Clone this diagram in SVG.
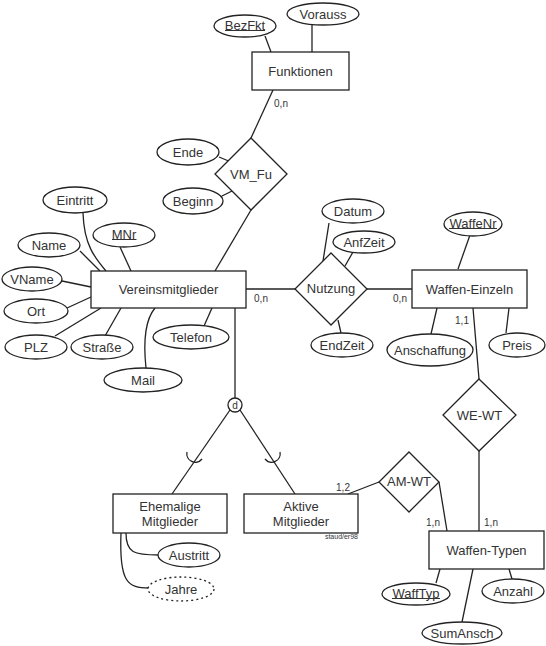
<svg xmlns="http://www.w3.org/2000/svg" width="546" height="646" viewBox="0 0 546 646">
<style>
.e{fill:#fff;stroke:#222;stroke-width:1.3}
.d{fill:#fff;stroke:#222;stroke-width:1.3;stroke-dasharray:2,3}
.l{fill:none;stroke:#222;stroke-width:1.3}
.ul{stroke:#333;stroke-width:1}
text{font-family:"Liberation Sans",Arial,sans-serif;font-size:13px;fill:#333;text-anchor:middle;dominant-baseline:central}
.c{font-size:10px}
.s{font-size:7px;text-anchor:end}
</style>
<rect width="546" height="646" fill="#fff"/>
<g id="connectors">
<line class="l" x1="265" y1="36" x2="271" y2="52"/>
<line class="l" x1="312" y1="25" x2="312" y2="52"/>
<line class="l" x1="273" y1="90" x2="251" y2="138"/>
<line class="l" x1="219" y1="157" x2="231" y2="162"/>
<line class="l" x1="222" y1="196" x2="234" y2="190"/>
<line class="l" x1="251" y1="210" x2="215" y2="271"/>
<path class="l" d="M83,213 C84,245 95,258 106,271"/>
<line class="l" x1="80" y1="251" x2="100" y2="271"/>
<line class="l" x1="120" y1="247" x2="131" y2="271"/>
<line class="l" x1="62" y1="281" x2="91" y2="287"/>
<line class="l" x1="67" y1="308" x2="91" y2="297"/>
<line class="l" x1="55" y1="336" x2="101" y2="308"/>
<line class="l" x1="105" y1="336" x2="121" y2="308"/>
<path class="l" d="M146,368 C143,340 145,320 155,308"/>
<line class="l" x1="204" y1="326" x2="212" y2="308"/>
<line class="l" x1="246" y1="289" x2="295" y2="289"/>
<line class="l" x1="367" y1="289" x2="412" y2="289"/>
<line class="l" x1="329" y1="223" x2="323" y2="261"/>
<line class="l" x1="353" y1="252" x2="345" y2="266"/>
<line class="l" x1="338" y1="320" x2="341" y2="333"/>
<line class="l" x1="470" y1="235" x2="458" y2="269"/>
<line class="l" x1="437" y1="308" x2="431" y2="334"/>
<line class="l" x1="509" y1="308" x2="506" y2="333"/>
<line class="l" x1="473" y1="308" x2="479" y2="379"/>
<line class="l" x1="479" y1="451" x2="479" y2="531"/>
<line class="l" x1="379" y1="482" x2="348" y2="494"/>
<line class="l" x1="439" y1="482" x2="447" y2="531"/>
<line class="l" x1="440" y1="569" x2="436" y2="583"/>
<line class="l" x1="509" y1="569" x2="512" y2="579"/>
<line class="l" x1="473" y1="569" x2="462" y2="622"/>
<line class="l" x1="235" y1="308" x2="235" y2="398"/>
<line class="l" x1="230" y1="410" x2="172" y2="494"/>
<line class="l" x1="240" y1="410" x2="295" y2="494"/>
<path class="l" d="M187,452 A8.5,8.5 0 0 0 202,459"/>
<path class="l" d="M265,459 A8.5,8.5 0 0 0 280,452"/>
<path class="l" d="M126,533 C126,553 134,555 159,555"/>
<path class="l" d="M121,533 C119,583 128,588 149,588"/>
</g>
<g id="labels">
<text class="c" x="281" y="103">0,n</text>
<text class="c" x="261" y="298">0,n</text>
<text class="c" x="400" y="298">0,n</text>
<text class="c" x="462" y="320">1,1</text>
<text class="c" x="343" y="487">1,2</text>
<text class="c" x="433" y="522">1,n</text>
<text class="c" x="491" y="522">1,n</text>
<text class="s" x="358" y="536">staud/er98</text>
</g>
<g id="Funktionen"><rect class="e" x="252" y="52" width="97" height="38"/><text x="300.5" y="71">Funktionen</text></g>
<g id="BezFkt"><ellipse class="e" cx="245" cy="26" rx="31" ry="11"/><text x="245" y="25">BezFkt</text><line class="ul" x1="225" y1="30.5" x2="265" y2="30.5"/></g>
<g id="Vorauss"><ellipse class="e" cx="323" cy="14" rx="36" ry="11"/><text x="323" y="14">Vorauss</text></g>
<g id="VM_Fu"><polygon class="e" points="251,138 287,174 251,210 215,174"/><text x="251" y="174">VM_Fu</text></g>
<g id="Ende"><ellipse class="e" cx="188" cy="152" rx="31" ry="13"/><text x="188" y="152">Ende</text></g>
<g id="Beginn"><ellipse class="e" cx="193" cy="201" rx="30" ry="13"/><text x="193" y="201">Beginn</text></g>
<g id="Vereinsmitglieder"><rect class="e" x="91" y="271" width="155" height="37"/><text x="168.5" y="289.5">Vereinsmitglieder</text></g>
<g id="Eintritt"><ellipse class="e" cx="75" cy="200" rx="32" ry="13"/><text x="75" y="200">Eintritt</text></g>
<g id="MNr"><ellipse class="e" cx="124" cy="235" rx="31" ry="12"/><text x="124" y="234">MNr</text><line class="ul" x1="112" y1="239.5" x2="136.5" y2="239.5"/></g>
<g id="Name"><ellipse class="e" cx="49" cy="245" rx="31" ry="12"/><text x="49" y="245">Name</text></g>
<g id="VName"><ellipse class="e" cx="32" cy="279" rx="30" ry="12"/><text x="32" y="279">VName</text></g>
<g id="Ort"><ellipse class="e" cx="36" cy="311" rx="32" ry="12"/><text x="36" y="311">Ort</text></g>
<g id="PLZ"><ellipse class="e" cx="36" cy="347" rx="31" ry="12"/><text x="36" y="347">PLZ</text></g>
<g id="Strasse"><ellipse class="e" cx="102" cy="347" rx="31" ry="12"/><text x="102" y="347">Straße</text></g>
<g id="Mail"><ellipse class="e" cx="143" cy="380" rx="39" ry="12"/><text x="143" y="380">Mail</text></g>
<g id="Telefon"><ellipse class="e" cx="191" cy="337" rx="38" ry="12"/><text x="191" y="337">Telefon</text></g>
<g id="Nutzung"><polygon class="e" points="331,253 367,289 331,325 295,289"/><text x="331" y="288">Nutzung</text></g>
<g id="Datum"><ellipse class="e" cx="353" cy="211" rx="31" ry="12"/><text x="353" y="211">Datum</text></g>
<g id="AnfZeit"><ellipse class="e" cx="364" cy="242" rx="31" ry="11"/><text x="364" y="242">AnfZeit</text></g>
<g id="EndZeit"><ellipse class="e" cx="342" cy="345" rx="31" ry="12"/><text x="342" y="345">EndZeit</text></g>
<g id="Waffen-Einzeln"><rect class="e" x="412" y="270" width="115" height="38"/><text x="469.5" y="289">Waffen-Einzeln</text></g>
<g id="WaffeNr"><ellipse class="e" cx="473" cy="224" rx="29" ry="12"/><text x="473" y="223">WaffeNr</text><line class="ul" x1="449" y1="228.5" x2="497" y2="228.5"/></g>
<g id="Anschaffung"><ellipse class="e" cx="430" cy="350" rx="43" ry="16"/><text x="430" y="350">Anschaffung</text></g>
<g id="Preis"><ellipse class="e" cx="517" cy="345" rx="28" ry="12"/><text x="517" y="345">Preis</text></g>
<g id="WE-WT"><polygon class="e" points="479,379 516,415 479,451 443,415"/><text x="479.5" y="415">WE-WT</text></g>
<g id="d"><circle class="e" cx="235" cy="405" r="7"/><text class="c" x="235" y="405">d</text></g>
<g id="Ehemalige"><rect class="e" x="113" y="494" width="114" height="39"/><text x="170" y="506">Ehemalige</text><text x="170" y="521">Mitglieder</text></g>
<g id="Austritt"><ellipse class="e" cx="189" cy="555" rx="31" ry="12"/><text x="189" y="555">Austritt</text></g>
<g id="Jahre"><ellipse class="d" cx="181" cy="589" rx="33" ry="12"/><text x="181" y="589">Jahre</text></g>
<g id="Aktive"><rect class="e" x="244" y="494" width="114" height="39"/><text x="301" y="506">Aktive</text><text x="301" y="521">Mitglieder</text></g>
<g id="AM-WT"><polygon class="e" points="409,452 439,482 409,512 379,482"/><text x="409" y="481">AM-WT</text></g>
<g id="Waffen-Typen"><rect class="e" x="429" y="531" width="115" height="38"/><text x="486.5" y="550">Waffen-Typen</text></g>
<g id="WaffTyp"><ellipse class="e" cx="416" cy="594" rx="34" ry="11"/><text x="416" y="593">WaffTyp</text><line class="ul" x1="392" y1="598.5" x2="440" y2="598.5"/></g>
<g id="Anzahl"><ellipse class="e" cx="513" cy="591" rx="31" ry="12"/><text x="513" y="591">Anzahl</text></g>
<g id="SumAnsch"><ellipse class="e" cx="462" cy="633" rx="40" ry="11"/><text x="462" y="633">SumAnsch</text></g>
</svg>
